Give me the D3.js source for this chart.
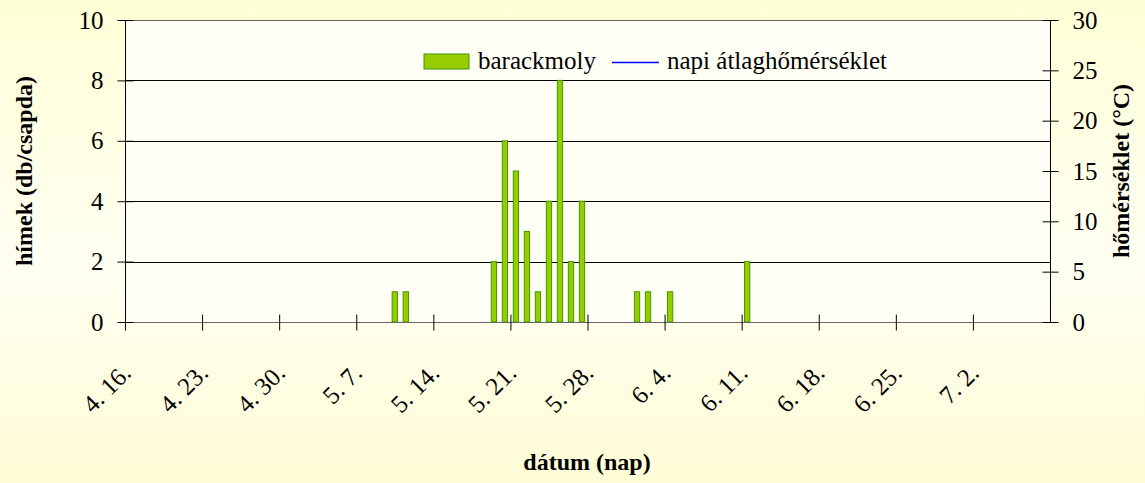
<!DOCTYPE html>
<html><head><meta charset="utf-8">
<script src="https://cdn.jsdelivr.net/npm/d3@7"></script>
<style>html,body{margin:0;padding:0;}svg{display:block;}</style>
</head><body>
<script>
// ---- data ----
const startDate = "2000-04-16";
const endDate = "2000-07-09";
const tickLabels = ["4. 16.","4. 23.","4. 30.","5. 7.","5. 14.","5. 21.","5. 28.","6. 4.","6. 11.","6. 18.","6. 25.","7. 2."];
const catchDates = ["2000-05-10","2000-05-11","2000-05-19","2000-05-20","2000-05-21","2000-05-22","2000-05-23","2000-05-24","2000-05-25","2000-05-26","2000-05-27","2000-06-01","2000-06-02","2000-06-04","2000-06-11"];
const catchValues = [1,1,2,6,5,3,1,4,8,2,4,1,1,1,2];
const tempDates = [];
const tempValues = [];
const leftTicks = [0,2,4,6,8,10];
const rightTicks = [0,5,10,15,20,25,30];
const seriesNames = ["barackmoly","napi átlaghőmérséklet"];

const W=1145,H=483;
const m={l:125,r:1050,t:20,b:322};
const parse=d3.utcParse("%Y-%m-%d");
const svg=d3.select("body").append("svg").attr("width",W).attr("height",H);
const defs=svg.append("defs");
const g=defs.append("linearGradient").attr("id","bg").attr("x1",0).attr("y1",0).attr("x2",0).attr("y2",1);
g.append("stop").attr("offset","0%").attr("stop-color","#FFFFD6");
g.append("stop").attr("offset","55%").attr("stop-color","#FFFFF2");
g.append("stop").attr("offset","100%").attr("stop-color","#FFFDD6");
svg.append("rect").attr("width",W).attr("height",H).attr("fill","url(#bg)");

const x=d3.scaleUtc().domain([parse(startDate),parse(endDate)]).range([m.l,m.r]);
const y=d3.scaleLinear().domain([0,10]).range([m.b,m.t]);
const y2=d3.scaleLinear().domain([0,30]).range([m.b,m.t]);

svg.append("rect").attr("x",m.l).attr("y",m.t).attr("width",m.r-m.l).attr("height",m.b-m.t).attr("fill","#FFFFF6");

const font="'Liberation Serif','Times New Roman',serif";
// gridlines
svg.append("g").selectAll("line").data(leftTicks.filter(d=>d>0)).join("line")
 .attr("x1",m.l).attr("x2",m.r).attr("y1",d=>Math.round(y(d))+0.5).attr("y2",d=>Math.round(y(d))+0.5)
 .attr("stroke","#000").attr("stroke-width",1);

// bars
const day=x(parse("2000-04-17"))-x(parse("2000-04-16"));
const bw=day*0.48;
const bars=catchDates.map((d,i)=>({d:parse(d),v:catchValues[i]}));
svg.append("g").selectAll("rect").data(bars).join("rect")
 .attr("x",d=>x(d.d)+day/2-bw/2).attr("width",bw)
 .attr("y",d=>y(d.v)).attr("height",d=>y(0)-y(d.v))
 .attr("fill","#99CC00").attr("stroke","#3D9A00").attr("stroke-width",1);

// temperature line (no data shown)
svg.append("path").datum(tempDates.map((d,i)=>({d:parse(d),v:tempValues[i]})))
 .attr("fill","none").attr("stroke","#0000FF").attr("stroke-width",1.5)
 .attr("d",d3.line().x(d=>x(d.d)+day/2).y(d=>y2(d.v)));

// axes
const axG=svg.append("g").attr("stroke","#000");
axG.append("line").attr("x1",m.l+0.5).attr("x2",m.l+0.5).attr("y1",m.t).attr("y2",m.b);
axG.append("line").attr("x1",m.r+0.5).attr("x2",m.r+0.5).attr("y1",m.t).attr("y2",m.b);
axG.append("line").attr("x1",m.l).attr("x2",m.r).attr("y1",m.b+0.5).attr("y2",m.b+0.5).attr("stroke","#666");
axG.append("line").attr("x1",m.l).attr("x2",m.r).attr("y1",m.t+0.5).attr("y2",m.t+0.5).attr("stroke","#666");

// left axis
const la=svg.append("g").attr("transform",`translate(${m.l+0.5},0)`).call(d3.axisLeft(y).tickValues(leftTicks).tickSize(8).tickPadding(14));
la.select(".domain").remove();
la.selectAll(".tick line").attr("x2",8).attr("x1",-8).attr("stroke","#000");
la.selectAll("text").attr("font-family",font).attr("font-size",25).attr("fill","#000");
// right axis
const ra=svg.append("g").attr("transform",`translate(${m.r+0.5},0)`).call(d3.axisRight(y2).tickValues(rightTicks).tickSize(8).tickPadding(14));
ra.select(".domain").remove();
ra.selectAll(".tick line").attr("x1",-8).attr("x2",8).attr("stroke","#000");
ra.selectAll("text").attr("font-family",font).attr("font-size",25).attr("fill","#000");

// bottom axis
const tickDates=tickLabels.map((t,i)=>d3.utcDay.offset(parse(startDate),7*i));
const ba=svg.append("g").attr("transform",`translate(0,${m.b+0.5})`).call(d3.axisBottom(x).tickValues(tickDates).tickSize(8).tickFormat((d,i)=>tickLabels[i]));
ba.select(".domain").remove();
ba.selectAll(".tick line").attr("y1",-8).attr("y2",8).attr("stroke","#000");
ba.selectAll("text").attr("font-family",font).attr("font-size",25).attr("fill","#000")
 .attr("text-anchor","end").attr("dy",null).attr("y",null)
 .attr("transform","translate(7,52) rotate(-45)");

// titles
svg.append("text").attr("transform","translate(32,171) rotate(-90)").attr("text-anchor","middle")
 .attr("font-family",font).attr("font-weight","bold").attr("font-size",24).text("hímek (db/csapda)");
svg.append("text").attr("transform","translate(1129,171) rotate(-90)").attr("text-anchor","middle")
 .attr("font-family",font).attr("font-weight","bold").attr("font-size",24).text("hőmérséklet (°C)");
svg.append("text").attr("x",587).attr("y",470).attr("text-anchor","middle")
 .attr("font-family",font).attr("font-weight","bold").attr("font-size",24).text("dátum (nap)");

// legend
const lg=svg.append("g");
lg.append("rect").attr("x",424).attr("y",54).attr("width",45).attr("height",15).attr("fill","#99CC00").attr("stroke","#3D9A00");
lg.append("text").attr("x",478).attr("y",69).attr("font-family",font).attr("font-size",25).text(seriesNames[0]);
lg.append("line").attr("x1",612).attr("x2",659).attr("y1",62.5).attr("y2",62.5).attr("stroke","#0000FF").attr("stroke-width",1.5);
lg.append("text").attr("x",667).attr("y",69).attr("font-family",font).attr("font-size",25).text(seriesNames[1]);
</script>
</body></html>
